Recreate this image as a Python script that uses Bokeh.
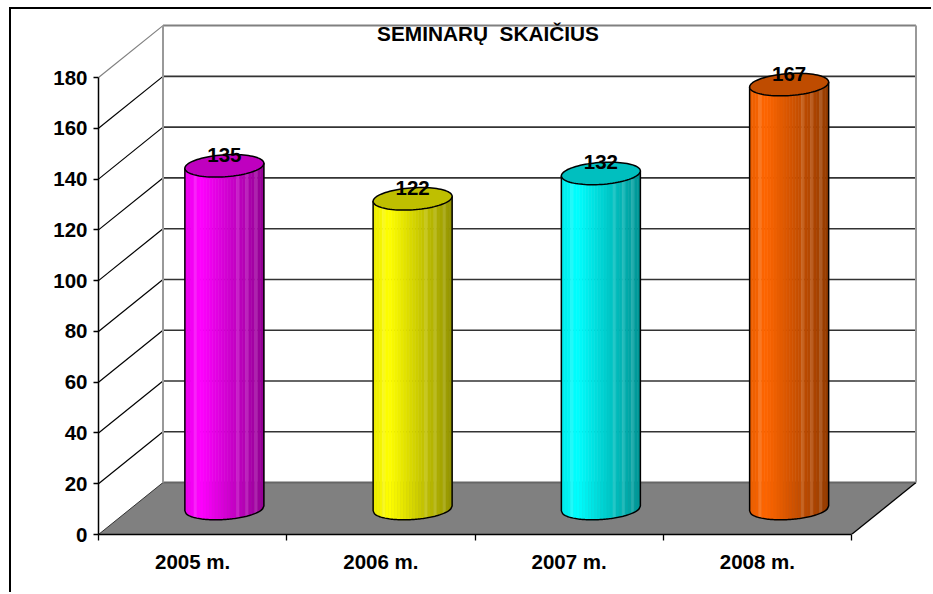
import numpy as np
from bokeh.plotting import figure
from bokeh.embed import file_html
from bokeh.resources import INLINE
from bokeh.models import Range1d, FixedTicker
from bokeh.core.properties import value as fv

years = ["2005 m.", "2006 m.", "2007 m.", "2008 m."]
seminars = [135, 122, 132, 167]
bar_colors = [(255, 0, 255), (255, 255, 0), (0, 255, 255), (255, 102, 0)]
y_ticks = [0, 20, 40, 60, 80, 100, 120, 140, 160, 180]
title_text = "SEMINARŲ\u00a0\u00a0SKAIČIUS"

FONT = "Liberation Sans"
PX_X = 188.25   # px per category
PX_Y = 2.541    # px per value unit
DX = 64.5 / PX_X  # depth of the 3D box, in category units
DY = 52 / PX_Y  # depth of the 3D box, in value units
HALF_W = 39.5 / PX_X
ELL_B = 11 / PX_Y
ELL_S = 2.5 / PX_Y

p = figure(width=922, height=585, output_backend="svg", toolbar_location=None,
           x_range=Range1d(0, 822 / PX_X), y_range=Range1d(0, 519.5 / PX_Y),
           frame_width=822, frame_height=519, min_border_left=87, min_border_right=13,
           min_border_top=6, min_border_bottom=60, outline_line_color=None,
           background_fill_color="white", border_fill_color="white",
           margin=(9, 0, 0, 11), styles={"box-shadow": "-2px -2px 0 0 #000000"})
p.grid.visible = False

# floor
n = len(years)
p.patch([0, n, n + DX, DX], [0, 0, DY, DY], fill_color="#808080", line_color=None)
p.line([DX, n + DX], [DY, DY], line_color="#666666", line_width=2)
p.line([0, DX], [0, DY], line_color="#333333", line_width=1)
p.line([n, n + DX], [0, DY], line_color="#000000", line_width=1.3)

# walls and grid
for t in y_ticks[1:]:
    last = t == y_ticks[-1]
    p.line([0, DX], [t, t + DY], line_color="#808080" if last else "#000000", line_width=1.2)
    p.line([DX, n + DX], [t + DY, t + DY], line_color="#808080" if last else "#333333",
           line_width=2 if last else 1.6)
p.line([DX, DX], [DY, y_ticks[-1] + DY], line_color="#999999", line_width=2)
p.line([n + DX, n + DX], [DY, y_ticks[-1] + DY], line_color="#999999", line_width=2)

def lower(u):
    return -ELL_B * np.sqrt(np.clip(1 - u ** 2, 0, 1)) + ELL_S * u

def shade(u):
    if u < -0.6:
        return 0.92 + 0.08 * (u + 1) / 0.4
    return 1.0 - 0.42 * (u + 0.6) / 1.6

# bars
for i, (v, c) in enumerate(zip(seminars, bar_colors)):
    cx = i + 0.5 + DX / 2 - 0.5 / PX_X
    base = DY / 2
    edges = np.linspace(-1, 1, 27)
    streaks = {3, 17, 20, 23}
    for k in range(len(edges) - 1):
        u0, u1 = edges[k], edges[k + 1]
        us = np.linspace(u0, u1, 5)
        xs = cx + us * HALF_W
        s = shade((u0 + u1) / 2)
        col = [int(min(255, ch * s)) for ch in c]
        if k in streaks:
            col = [int(ch + (255 - ch) * 0.14) for ch in col]
        hexcol = "#%02x%02x%02x" % tuple(col)
        ys_top = base + v + lower(us)
        ys_bot = base + lower(us)
        p.patch(list(xs) + list(xs[::-1]), list(ys_bot) + list(ys_top[::-1]),
                fill_color=hexcol, line_color=hexcol, line_width=0.6)
    us = np.linspace(-1, 1, 61)
    xs = cx + us * HALF_W
    p.line(list(xs) + [xs[-1], xs[0], xs[0]],
           list(base + lower(us)) + [base + v + lower(us)[-1], base + v + lower(us)[0], base + lower(us)[0]],
           line_color="#000000", line_width=1.5)
    # top ellipse
    th = np.linspace(0, 2 * np.pi, 90)
    ex = cx + HALF_W * np.cos(th)
    ey = base + v + ELL_B * np.sin(th) + ELL_S * np.cos(th)
    top = [int(ch * 0.75) for ch in c]
    p.patch(ex, ey, fill_color="#%02x%02x%02x" % tuple(top), line_color="#000000", line_width=1.5)
    p.text([cx], [base + v + 11 / PX_Y], text=[str(v)], text_align="center", text_baseline="middle",
           text_font=fv(FONT), text_font_style="bold", text_font_size="20.5px", text_color="#000000")

# axes
ya = p.yaxis[0]
ya.ticker = FixedTicker(ticks=y_ticks)
ya.bounds = (0, y_ticks[-1])
ya.major_tick_in = 0
ya.major_tick_out = 5
ya.minor_tick_line_color = None
ya.axis_line_color = "#000000"
ya.axis_line_width = 1.5
ya.major_tick_line_width = 1.3
ya.major_label_standoff = 6
ya.major_label_text_font = FONT
ya.major_label_text_font_style = "bold"
ya.major_label_text_font_size = "20.5px"
ya.major_label_text_color = "#000000"

xa = p.xaxis[0]
xa.ticker = FixedTicker(ticks=[i + 0.5 for i in range(n)], minor_ticks=list(range(n + 1)))
xa.major_label_overrides = {i + 0.5: y for i, y in enumerate(years)}
xa.bounds = (0, n)
xa.major_tick_line_color = None
xa.major_tick_in = 0
xa.major_tick_out = 0
xa.minor_tick_in = 0
xa.minor_tick_out = 6
xa.minor_tick_line_color = "#000000"
xa.minor_tick_line_width = 1.3
xa.axis_line_color = "#000000"
xa.axis_line_width = 1.5
xa.major_label_standoff = 9
xa.major_label_text_font = FONT
xa.major_label_text_font_style = "bold"
xa.major_label_text_font_size = "20.5px"
xa.major_label_text_color = "#000000"

# title sits on the back wall, just below its top edge
p.text([(487.5 - 98) / PX_X], [(534.5 - 33.5) / PX_Y], text=[title_text],
       text_align="center", text_baseline="middle", text_font=fv(FONT),
       text_font_style="bold", text_font_size="20.8px", text_color="#000000")

open("out.html", "w").write(file_html(p, INLINE))
